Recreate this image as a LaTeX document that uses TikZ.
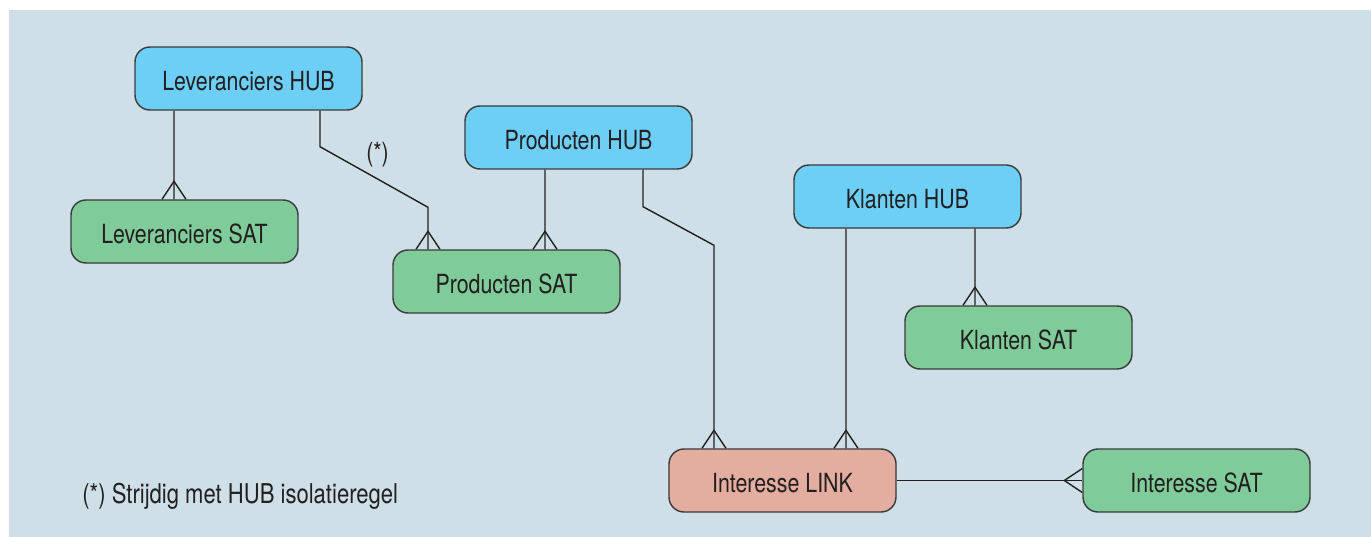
\documentclass[tikz,border=0pt]{standalone}
\usepackage{fontspec}
\setmainfont{TeX Gyre Heros}[FakeStretch=0.81]
\usepackage{tikz}
\usetikzlibrary{positioning, calc}
\usepackage{xcolor}

\definecolor{bgblue}{HTML}{CEDFE7}
\definecolor{hubblue}{HTML}{6DCFF6}
\definecolor{satgreen}{HTML}{80CB9A}
\definecolor{linkred}{HTML}{E3AE9F}
\definecolor{linegray}{HTML}{3A3A3A}
\definecolor{textdark}{HTML}{231F20}

\begin{document}
\begin{tikzpicture}[
    hub/.style={draw=linegray, line width=0.8pt, rounded corners=0.3cm, fill=hubblue,
        minimum width=4.54cm, minimum height=1.26cm, text height=0.48cm, text depth=0cm,
        text=textdark, font=\fontsize{15}{18}\selectfont},
    sat/.style={hub, fill=satgreen},
    lnk/.style={hub, fill=linkred},
    conn/.style={draw=textdark, line width=0.8pt},
    lbl/.style={text=textdark, font=\fontsize{15}{18}\selectfont},
    crowfoot/.pic={\draw[conn] (-0.24,0) -- (0,0.36) -- (0.24,0);}
]
    \useasboundingbox (0,0) rectangle (27.42,-10.74);
    \fill[bgblue] (0.18,-0.2) rectangle (27.42,-10.74);

    % hubs
    \node[hub] (lhub) at (4.97, -1.57) {Leveranciers HUB};
    \node[hub] (phub) at (11.57, -2.75) {Producten HUB};
    \node[hub] (khub) at (18.15, -3.93) {Klanten HUB};

    % satellites
    \node[sat] (lsat) at (3.69, -4.63) {Leveranciers SAT};
    \node[sat] (psat) at (10.13, -5.63) {Producten SAT};
    \node[sat] (ksat) at (20.37, -6.75) {Klanten SAT};
    \node[sat] (isat) at (23.93, -9.61) {Interesse SAT};

    % link
    \node[lnk] (ilink) at (15.65, -9.61) {Interesse LINK};

    % verbindingen
    \draw[conn] ([xshift=-1.49cm]lhub.south) -- ([xshift=-0.21cm]lsat.north);
    \draw[conn] ([xshift=1.43cm]lhub.south) -- ++(0,-0.72)
        -- node[lbl, above=2pt, xshift=2pt] (star) {(*)} ([xshift=-1.57cm, yshift=0.84cm]psat.north)
        -- ([xshift=-1.57cm]psat.north);
    \draw[conn] ([xshift=-0.67cm]phub.south) -- ([xshift=0.77cm]psat.north);
    \draw[conn] ([xshift=1.29cm]phub.south) -- ++(0,-0.74)
        -- ([xshift=-1.37cm, yshift=4.06cm]ilink.north) -- ([xshift=-1.37cm]ilink.north);
    \draw[conn] ([xshift=-1.23cm]khub.south) -- ([xshift=1.27cm]ilink.north);
    \draw[conn] ([xshift=1.35cm]khub.south) -- ([xshift=-0.87cm]ksat.north);
    \draw[conn] (ilink.east) -- (isat.west);

    % kraaienpoten
    \pic at ([xshift=-0.21cm]lsat.north) {crowfoot};
    \pic at ([xshift=-1.57cm]psat.north) {crowfoot};
    \pic at ([xshift=0.77cm]psat.north) {crowfoot};
    \pic at ([xshift=-1.37cm]ilink.north) {crowfoot};
    \pic at ([xshift=1.27cm]ilink.north) {crowfoot};
    \pic at ([xshift=-0.87cm]ksat.north) {crowfoot};
    \pic[rotate=90] at (isat.west) {crowfoot};

    \node[lbl, anchor=west, inner sep=0pt, font=\fontsize{15.5}{18}\selectfont] (note) at (1.64, -9.92)
        {(*) Strijdig met HUB isolatieregel};
\end{tikzpicture}
\end{document}
